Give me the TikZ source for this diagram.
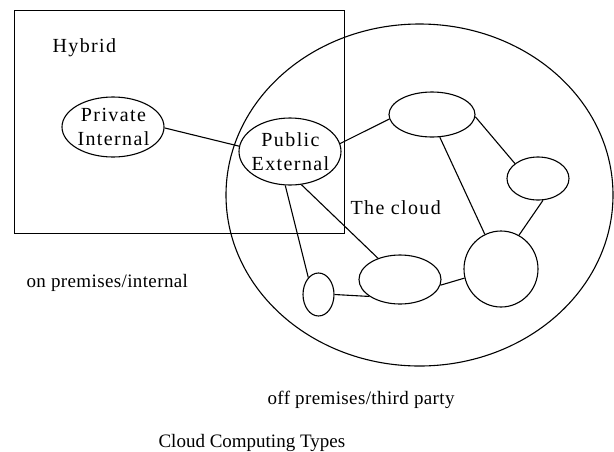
\documentclass[tikz,border=0pt]{standalone}
\usepackage{fontspec}
\setmainfont{Liberation Serif}
\newfontfamily\widefont[LetterSpace=7]{Liberation Serif}
\newfontfamily\semiwidefont[LetterSpace=2]{Liberation Serif}
\usetikzlibrary{shapes.geometric}
\begin{document}
\begin{tikzpicture}[x=1pt,y=-1pt,line width=1.1pt,
  blob/.style={draw,ellipse,inner sep=0pt},
  lbl/.style={font=\fontsize{19}{23}\selectfont,inner sep=0pt,align=center},
  slbl/.style={font=\semiwidefont\fontsize{19}{23}\selectfont,inner sep=0pt,align=center},
  wlbl/.style={font=\widefont\fontsize{20}{23.5}\selectfont,inner sep=0pt,align=center},
  link/.style={draw}]
\useasboundingbox (0,0) rectangle (614,451);
\node[draw,rectangle,inner sep=0pt,minimum width=330pt,minimum height=223pt,anchor=north west] (hybrid) at (14,10) {};
\node[blob,minimum width=387pt,minimum height=342pt] (cloud) at (419.5,195) {};
\node[blob,minimum width=102pt,minimum height=60pt] (priv) at (113,127) {};
\node[blob,minimum width=102pt,minimum height=67pt] (pub) at (290,151.5) {};
\node[blob,minimum width=86pt,minimum height=45pt] (n1) at (432,114.5) {};
\node[blob,minimum width=62pt,minimum height=43pt] (n2) at (538,178.5) {};
\node[blob,minimum width=74pt,minimum height=76pt] (n3) at (501,269) {};
\node[blob,minimum width=82pt,minimum height=49pt] (n4) at (400,279.5) {};
\node[blob,minimum width=31pt,minimum height=43pt] (n5) at (318.5,294.5) {};
\node[wlbl] (privtxt) at (113.5,127) {Private\\Internal};
\node[wlbl] (pubtxt) at (290.5,151.5) {Public\\External};
\node[wlbl,anchor=base west] (hyb) at (52,52) {Hybrid};
\node[wlbl,anchor=base west] (thecloud) at (350,214) {The cloud};
\node[slbl,anchor=base west] (onprem) at (26,287) {on premises/internal};
\node[slbl,anchor=base west] (offprem) at (267,404) {off premises/third party};
\node[lbl,anchor=base west] (title) at (158,447) {Cloud Computing Types};
\draw[link] (priv.-1) -- (pub.174);
\draw[link] (pub.9) -- (n1.186);
\draw[link] (n1.-3) -- (n2.147);
\draw[link] (n1.289) -- (n3.115);
\draw[link] (n2.283) -- (n3.62);
\draw[link] (n3.194) -- (n4.-8);
\draw[link] (n5.east) -- (n4.209);
\draw[link] (pub.262) -- (n5.121);
\draw[link] (pub.289) -- (n4.136);
\end{tikzpicture}
\end{document}
